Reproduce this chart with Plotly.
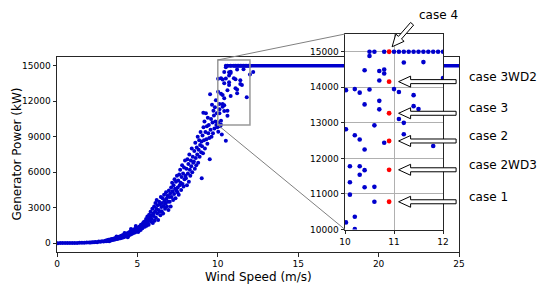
import plotly.graph_objects as go

# ---------------- data ----------------
cloud_ws = [
    0.05, 0.2, 0.35, 0.5, 0.65, 0.8, 0.95, 1.1, 1.25, 1.4, 1.55, 1.7, 1.85, 2.0,
    2.1, 2.2, 2.3, 2.4, 2.5, 2.6, 2.7, 2.8, 2.9,
    3.0, 3.05, 3.1, 3.15, 3.2, 3.25, 3.3, 3.35, 3.4, 3.45, 3.5, 3.55, 3.6, 3.65, 3.7, 3.75,
    3.8, 3.85, 3.9, 3.95, 4.0, 4.05, 4.1, 4.15, 4.2, 4.25, 4.3, 4.35, 4.4, 4.45, 4.5, 4.55,
    4.6, 4.65, 4.7, 4.75, 4.8, 4.85, 4.9, 4.95, 3.7, 4.2, 4.6, 4.9, 4.4,
    5.02, 5.05, 5.08, 5.1, 5.13, 5.16, 5.2, 5.22, 5.25, 5.28, 5.31, 5.34, 5.37, 5.4, 5.43, 5.46, 5.48,
    5.51, 5.54, 5.57, 5.6, 5.62, 5.65, 5.68, 5.7, 5.73, 5.76, 5.79, 5.82, 5.85, 5.88, 5.9, 5.93, 5.96, 5.99,
    6.01, 6.04, 6.07, 6.1, 6.12, 6.15, 6.18, 6.2, 6.23, 6.26, 6.29, 6.32, 6.35, 6.38, 6.4, 6.43, 6.46, 6.49,
    6.51, 6.54, 6.57, 6.6, 6.63, 6.66, 6.69, 6.72, 6.75, 6.78, 6.81, 6.84, 6.87, 6.9, 6.93, 6.96, 6.99,
    7.01, 7.04, 7.07, 7.1, 7.13, 7.16, 7.19, 7.22, 7.25, 7.28, 7.31, 7.34, 7.37, 7.4, 7.43, 7.46, 7.49,
    7.51, 7.54, 7.57, 7.6, 7.63, 7.66, 7.69, 7.72, 7.75, 7.78, 7.81, 7.84, 7.87, 7.9, 7.93, 7.96, 7.99,
    8.02, 8.05, 8.08, 8.11, 8.14, 8.17, 8.2, 8.23, 8.26, 8.29, 8.32, 8.35, 8.38, 8.41, 8.44, 8.47,
    8.51, 8.54, 8.57, 8.6, 8.63, 8.66, 8.69, 8.72, 8.75, 8.78, 8.81, 8.84, 8.87, 8.9, 8.93, 8.96, 8.99,
    9.0, 9.02, 9.05, 9.08, 9.1, 9.11, 9.14, 9.17, 9.2, 9.23, 9.26, 9.29, 9.32, 9.35, 9.38, 9.41, 9.44, 9.47,
    9.5, 9.52, 9.55, 9.58, 9.61, 9.64, 9.67, 9.7, 9.73, 9.76, 9.79, 9.82, 9.85, 9.88, 9.91, 9.94, 9.97,
    10.03, 10.14, 10.25, 10.5,
]
cloud_kw = [
    0, 2, 3, 5, 6, 8, 11, 14, 18, 23, 29, 36, 44, 55,
    45, 75, 65, 100, 85, 130, 110, 160, 135,
    210, 150, 250, 190, 280, 170, 300, 230, 340, 260, 380, 280, 420, 320, 460, 350,
    520, 390, 570, 420, 620, 460, 680, 500, 720, 560, 800, 600, 860, 650, 940, 720,
    1020, 780, 1100, 850, 1180, 900, 1260, 980, 560, 850, 1200, 1450, 500,
    1180, 950, 1320, 1050, 1400, 1230, 1120, 1550, 1350, 1480, 1260, 1690, 1420, 1780, 1550, 1380, 1850,
    1650, 2050, 1480, 1900, 2250, 1720, 2100, 1560, 2400, 1950, 2200, 2650, 1800, 2350, 2050, 2900, 1700, 2500,
    2300, 3100, 1900, 2700, 3400, 2150, 2900, 3650, 2500, 3200, 1950, 2800, 3500, 2650, 3300, 2350, 3900, 3050,
    2700, 3400, 3800, 2500, 3150, 4100, 3600, 2900, 3350, 4300, 3750, 3100, 4000, 3500, 2800, 4450, 3900,
    3500, 4200, 3100, 4700, 3900, 5100, 4400, 3650, 4900, 4150, 5400, 4600, 3800, 5200, 4450, 5700, 4300,
    4700, 5300, 4100, 5800, 4900, 6200, 5100, 4500, 5600, 6600, 5000, 5900, 4800, 6400, 5400, 7000, 5700,
    5500, 6300, 4900, 7100, 5900, 6700, 5200, 7500, 6200, 5700, 7000, 6500, 8000, 6000, 7300, 6800,
    6900, 7800, 6300, 8500, 7200, 6600, 8100, 7500, 9000, 6800, 7900, 8700, 7300, 8300, 9400, 7700, 8600,
    5500, 8200, 9100, 7600, 11030, 9800, 8700, 10300, 8000, 9400, 11000, 8800, 9900, 8400, 10600, 9300, 10000, 8900,
    7100, 12600, 9600, 10500, 9000, 11700, 10200, 9300, 11200, 10800, 9700, 11500, 10300, 12100, 10000, 11000, 9800,
    9430, 9900, 9200, 8670,
]

# points read in the 10-12 m/s zoom (first 14 are at rated power)
inset_ws = [
    10.5, 10.6, 10.8, 11.0, 11.1, 11.2, 11.3, 11.4, 11.5, 11.6, 11.7, 11.8, 11.9, 12.0,
    10.5, 11.2, 11.6, 10.4, 10.7, 10.8, 10.8, 10.7, 12.0,
    10.2, 10.3, 10.5, 11.0, 11.1, 11.4, 10.02,
    10.4, 10.7, 10.7, 11.4, 11.5, 11.1, 11.2,
    10.02, 10.2, 10.3, 10.4, 10.6, 10.8, 11.2, 11.8,
    10.1, 10.3, 10.4, 10.3, 10.1, 10.4, 10.6, 10.1, 10.6,
    10.2, 10.02, 10.2, 12.2,
]
inset_kw = [
    15000, 15000, 15000, 15000, 15000, 15000, 15000, 15000, 15000, 15000, 15000, 15000, 15000, 15000,
    14880, 14700, 14710, 14480, 14460, 14500, 14390, 14190, 14260,
    13950, 13850, 13940, 13950, 13870, 13780, 13920,
    13520, 13620, 13380, 13470, 13390, 13110, 13000,
    12820, 12650, 12530, 12250, 12930, 12440, 12680, 12350,
    11780, 11780, 11670, 11540, 11330, 11190, 11200, 10980, 10780,
    10360, 10200, 10010, 14490,
]

rated_ws = [10.5, 25.0]
rated_kw = [15000, 15000]

case_names = ["case 4", "case 3WD2", "case 3", "case 2", "case 2WD3", "case 1"]
case_ws = [10.9, 10.9, 10.9, 10.9, 10.9, 10.9]
case_kw = [15000, 14160, 13270, 12490, 11680, 10780]

x_ticks = [0, 5, 10, 15, 20, 25]
y_ticks = [0, 3000, 6000, 9000, 12000, 15000]
inset_x_ticks = [10, 11, 12]
inset_y_ticks = [10000, 11000, 12000, 13000, 14000, 15000]

main_x_range = [0, 25]
main_y_range = [-750, 15750]
inset_x_range = [10, 12]
inset_y_range = [10000, 15500]

# ---------------- layout geometry ----------------
# The page body has an 8px margin, so the figure is shrunk/offset to land
# on the same window pixels as the reference.
OFF = 8
W, H = 545 - OFF, 290 - OFF
PLOT_L, PLOT_R, PLOT_T, PLOT_B = 57, 459, 33, 252      # window pixels
ML, MT = PLOT_L - OFF, PLOT_T - OFF
MR, MB = (W + OFF) - PLOT_R, (H + OFF) - PLOT_B
PW, PH = PLOT_R - PLOT_L, PLOT_B - PLOT_T
main_y_dom = [0, (PLOT_B - 57) / PH]
inset_x_dom = [(345 - PLOT_L) / PW, (443 - PLOT_L) / PW]
inset_y_dom = [(PLOT_B - 229.5) / PH, (PLOT_B - 34) / PH]

BLUE = "#0000cd"
AX = "#262626"
FONT = "DejaVu Sans"


def lin(v, r, d):
    return d[0] + (v - r[0]) / (r[1] - r[0]) * (d[1] - d[0])


def main_paper(v, p):
    return lin(v, main_x_range, [0, 1]), lin(p, main_y_range, main_y_dom)


def inset_px(v, p):
    return (PLOT_L + lin(v, inset_x_range, inset_x_dom) * PW,
            PLOT_B - lin(p, inset_y_range, inset_y_dom) * PH)


def px_paper(px, py):
    return (px - PLOT_L) / PW, (PLOT_B - py) / PH


def arrow_path(tail, tip, hl=12, hw=5.5, sw=2):
    dx, dy = tail[0] - tip[0], tail[1] - tip[1]
    L = (dx * dx + dy * dy) ** 0.5
    ux, uy = dx / L, dy / L
    nx, ny = -uy, ux
    hb = (tip[0] + ux * hl, tip[1] + uy * hl)
    pts = [tip,
           (hb[0] + nx * hw, hb[1] + ny * hw),
           (hb[0] + nx * sw, hb[1] + ny * sw),
           (tail[0] + nx * sw, tail[1] + ny * sw),
           (tail[0] - nx * sw, tail[1] - ny * sw),
           (hb[0] - nx * sw, hb[1] - ny * sw),
           (hb[0] - nx * hw, hb[1] - ny * hw)]
    pp = [px_paper(*q) for q in pts]
    return "M " + " L ".join(f"{a:.5f},{b:.5f}" for a, b in pp) + " Z"


all_ws = cloud_ws + inset_ws
all_kw = cloud_kw + inset_kw

fig = go.Figure()
fig.add_trace(go.Scatter(x=rated_ws, y=rated_kw, mode="lines",
                         line=dict(color=BLUE, width=3.5), xaxis="x", yaxis="y",
                         hoverinfo="skip"))
fig.add_trace(go.Scatter(x=all_ws, y=all_kw, mode="markers",
                         marker=dict(color=BLUE, size=4, line=dict(width=0)),
                         xaxis="x", yaxis="y"))
fig.add_trace(go.Scatter(x=all_ws, y=all_kw, mode="markers",
                         marker=dict(color=BLUE, size=4.6, line=dict(width=0)),
                         xaxis="x2", yaxis="y2"))
fig.add_trace(go.Scatter(x=case_ws, y=case_kw, mode="markers",
                         marker=dict(color="red", size=4.8, line=dict(width=0)),
                         xaxis="x2", yaxis="y2"))

axis_common = dict(showline=True, mirror=True, linecolor=AX, linewidth=1,
                   ticks="outside", ticklen=3.5, tickwidth=1, tickcolor=AX,
                   zeroline=False, tickformat="d",
                   tickfont=dict(family=FONT, size=9, color="black"))

shapes = []
# zoom rectangle on main axes
shapes.append(dict(type="rect", xref="x", yref="y",
                   x0=inset_x_range[0], x1=inset_x_range[1],
                   y0=inset_y_range[0], y1=inset_y_range[1],
                   line=dict(color="#999999", width=1.5), fillcolor="rgba(0,0,0,0)"))
# connector lines
for pm, pi in [((inset_x_range[0], inset_y_range[1]), (inset_x_dom[0], inset_y_dom[1])),
               ((inset_x_range[0], inset_y_range[0]), (inset_x_dom[0], inset_y_dom[0]))]:
    a = main_paper(*pm)
    shapes.append(dict(type="line", xref="paper", yref="paper",
                       x0=a[0], y0=a[1], x1=pi[0], y1=pi[1],
                       line=dict(color="#808080", width=1)))

annotations = []
for name, v, p in zip(case_names, case_ws, case_kw):
    cx, cy = inset_px(v, p)
    if name == "case 4":
        tip = (cx + 3, cy - 5)
        tail = (cx + 23, cy - 28)
        tx, ty = px_paper(cx + 49, cy - 37)
        annotations.append(dict(x=tx, y=ty, xref="paper", yref="paper", text=name,
                                showarrow=False, xanchor="center", yanchor="middle",
                                font=dict(family=FONT, size=12, color="black")))
    else:
        tip = (cx + 9.5, cy)
        tail = (cx + 67, cy)
        tx, ty = px_paper(cx + 78, cy - 5)
        annotations.append(dict(x=tx, y=ty, xref="paper", yref="paper", text=name,
                                showarrow=False, xanchor="left", yanchor="middle",
                                font=dict(family=FONT, size=12, color="black")))
    shapes.append(dict(type="path", xref="paper", yref="paper",
                       path=arrow_path(tail, tip),
                       fillcolor="white", line=dict(color="black", width=1)))

# axis titles
annotations.append(dict(x=0.5, y=px_paper(0, 276.5)[1], xref="paper", yref="paper",
                        text="Wind Speed (m/s)", showarrow=False,
                        xanchor="center", yanchor="middle",
                        font=dict(family=FONT, size=12, color="black")))
annotations.append(dict(x=px_paper(16, 0)[0], y=lin(0.5, [0, 1], main_y_dom),
                        xref="paper", yref="paper",
                        text="Generator Power (kW)", showarrow=False, textangle=-90,
                        xanchor="center", yanchor="middle",
                        font=dict(family=FONT, size=12, color="black")))

fig.update_layout(
    width=W, height=H, showlegend=False,
    margin=dict(l=ML, r=MR, t=MT, b=MB, pad=0),
    paper_bgcolor="white", plot_bgcolor="white",
    font=dict(family=FONT, color="black"),
    xaxis=dict(domain=[0, 1], range=main_x_range, tickvals=x_ticks, showgrid=False,
               anchor="y", **axis_common),
    yaxis=dict(domain=main_y_dom, range=main_y_range, tickvals=y_ticks, showgrid=False,
               anchor="x", **axis_common),
    xaxis2=dict(domain=inset_x_dom, range=inset_x_range, tickvals=inset_x_ticks,
                showgrid=True, gridcolor="#b0b0b0", gridwidth=1, anchor="y2", **axis_common),
    yaxis2=dict(domain=inset_y_dom, range=inset_y_range, tickvals=inset_y_ticks,
                showgrid=True, gridcolor="#b0b0b0", gridwidth=1, anchor="x2", **axis_common),
    shapes=shapes, annotations=annotations,
)

fig.write_html("out.html")
